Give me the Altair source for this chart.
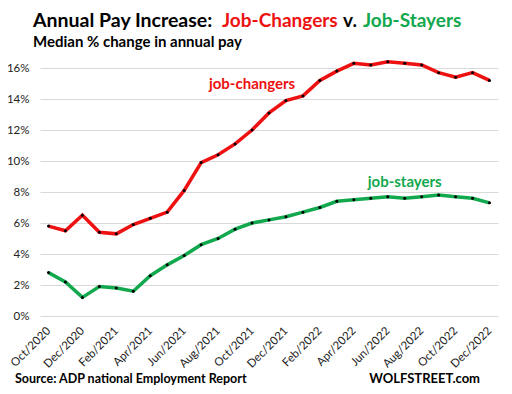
import altair as alt
import pandas as pd

months = ["Oct/2020", "Nov/2020", "Dec/2020", "Jan/2021", "Feb/2021", "Mar/2021", "Apr/2021",
          "May/2021", "Jun/2021", "Jul/2021", "Aug/2021", "Sep/2021", "Oct/2021", "Nov/2021",
          "Dec/2021", "Jan/2022", "Feb/2022", "Mar/2022", "Apr/2022", "May/2022", "Jun/2022",
          "Jul/2022", "Aug/2022", "Sep/2022", "Oct/2022", "Nov/2022", "Dec/2022"]
job_changers = [5.8, 5.5, 6.5, 5.4, 5.3, 5.9, 6.3, 6.7, 8.1, 9.9, 10.4, 11.1, 12.0, 13.1,
                13.9, 14.2, 15.2, 15.8, 16.3, 16.2, 16.4, 16.3, 16.2, 15.7, 15.4, 15.7, 15.2]
job_stayers = [2.8, 2.2, 1.2, 1.9, 1.8, 1.6, 2.6, 3.3, 3.9, 4.6, 5.0, 5.6, 6.0, 6.2,
               6.4, 6.7, 7.0, 7.4, 7.5, 7.6, 7.7, 7.6, 7.7, 7.8, 7.7, 7.6, 7.3]
tick_labels = months[::2]
y_ticks = [0, 2, 4, 6, 8, 10, 12, 14, 16]

series_names = ["job-changers", "job-stayers"]
series_colors = ["#ee1111", "#12a84e"]
label_months = ["Oct/2021", "Jul/2022"]
label_values = [14.65, 8.35]

FONT = "Lato"

rows = []
for m, a, b in zip(months, job_changers, job_stayers):
    rows.append({"month": m, "value": a, "series": series_names[0]})
    rows.append({"month": m, "value": b, "series": series_names[1]})
df = pd.DataFrame(rows)
lab = pd.DataFrame({"month": label_months, "value": label_values, "series": series_names})

x = alt.X("month:O", sort=months, scale=alt.Scale(type="point", padding=0.5),
          axis=alt.Axis(values=tick_labels, labelAngle=-45, labelAlign="right",
                        labelBaseline="middle", labelPadding=13, ticks=False, domain=False,
                        grid=False, title=None, labelFont=FONT, labelFontSize=11.5,
                        labelColor="#222", labelOverlap=False))
y = alt.Y("value:Q", scale=alt.Scale(domain=[0, 16], nice=False),
          axis=alt.Axis(values=y_ticks, labelExpr="datum.value + '%'", ticks=False, domain=False,
                        grid=True, gridColor="#d9d9d9", gridWidth=1, title=None,
                        labelFont=FONT, labelFontSize=11.5, labelColor="#222", labelPadding=11,
                        labelOverlap=False, labelBound=False, labelFlush=False))
color = alt.Color("series:N", scale=alt.Scale(domain=series_names, range=series_colors), legend=None)

lines = alt.Chart(df).mark_line(strokeWidth=3.5).encode(x=x, y=y, color=color)
dots = alt.Chart(df).mark_circle(size=9, color="black", opacity=1).encode(x=x, y=y)
labels = alt.Chart(lab).mark_text(font=FONT, fontSize=15, fontWeight="bold", align="center",
                                  baseline="alphabetic").encode(
    x=x, y=y, text="series:N", color=color)

def txt(s, xv, yv, size, col="black", align="left"):
    return alt.Chart(pd.DataFrame({"t": [s]})).mark_text(
        font=FONT, fontSize=size, fontWeight="bold", align=align, baseline="alphabetic",
        color=col).encode(text="t:N", x=alt.value(xv), y=alt.value(yv))

title_parts = [
    txt("Annual  Pay Increase:", -7, -41, 19.5),
    txt("Job-Changers", 182, -41, 19, "#ee1111"),
    txt("v.", 303, -41, 19),
    txt("Job-Stayers", 323, -41, 19, "#12a84e"),
    txt("Median % change in annual pay", -7, -21, 15),
    txt("Source: ADP national Employment Report", -25, 315, 12.5),
    txt("WOLFSTREET.com", 440, 315, 13, align="right"),
]

chart = alt.layer(lines, dots, labels, *title_parts).properties(
    width=458, height=248, autosize=alt.AutoSizeParams(type="none"),
    padding={"left": 32, "top": 60, "right": 6, "bottom": 70}
).configure_view(stroke=None)

chart.save("out.html", embed_options={"renderer": "svg", "actions": False})
